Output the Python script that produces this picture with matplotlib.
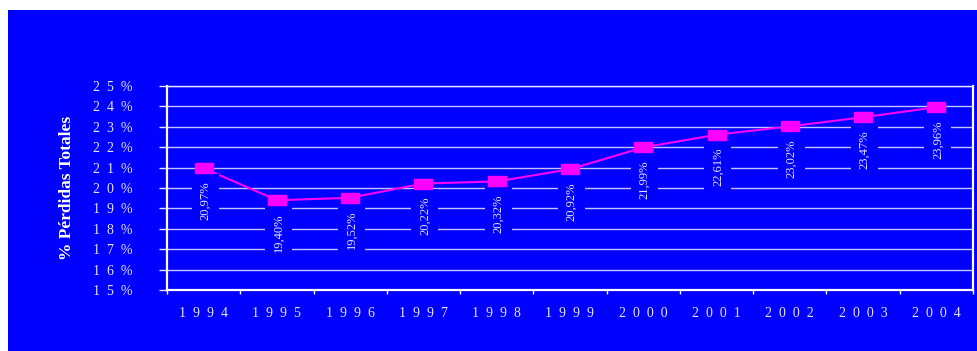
import matplotlib.pyplot as plt
from matplotlib.patches import Rectangle

years = ['1994', '1995', '1996', '1997', '1998', '1999', '2000', '2001', '2002', '2003', '2004']
perdidas = [20.97, 19.40, 19.52, 20.22, 20.32, 20.92, 21.99, 22.61, 23.02, 23.47, 23.96]
y_ticks = list(range(15, 26))

BLUE = '#0000FF'
TXT = '#E4E4FF'
GRID = '#C4C4FF'
MAG = '#FF00FF'

plt.rcParams['font.family'] = ['Liberation Serif', 'DejaVu Serif']

fig = plt.figure(figsize=(9.78, 3.51), dpi=100, facecolor='white')
# blue panel behind everything, leaving the white strip on top
fig.patches.append(Rectangle((8 / 978, 0), 1 - 8 / 978, 341 / 351,
                             transform=fig.transFigure, facecolor=BLUE,
                             edgecolor='none', zorder=-10))

ax = fig.add_axes([167 / 978, 61 / 351, 806 / 978, 204 / 351])
ax.set_facecolor(BLUE)

x = list(range(len(years)))
# line under the value boxes, markers on top of them
ax.plot(x, perdidas, color=MAG, lw=1.5, zorder=3)
box = [(-1.7, -0.9), (1.7, -0.9), (1.7, 0.9), (-1.7, 0.9), (-1.7, -0.9)]
ax.plot(x, perdidas, ls='none', marker=box, markersize=12.5,
        mfc=MAG, mec=MAG, zorder=5)

for xi, v in zip(x, perdidas):
    lab = ('%.2f%%' % v).replace('.', ',')
    ax.annotate(lab, (xi, v), xytext=(1, -9.5), textcoords='offset points',
                rotation=90, ha='center', va='top', fontsize=9, color=TXT,
                bbox=dict(boxstyle='square,pad=0.6', fc=BLUE, ec='none'),
                zorder=4)

ax.set_xlim(-0.5, len(years) - 0.5)
ax.set_ylim(15, 25)

ax.set_yticks(y_ticks)
ax.set_yticklabels(['  '.join(str(t)) + '  %' for t in y_ticks],
                   fontsize=10, color=TXT)
ax.tick_params(axis='y', length=6, width=1, color=TXT, pad=19)

ax.set_xticks(x)
ax.set_xticklabels(['  '.join(y) for y in years], fontsize=10, color=TXT)
ax.set_xticks([i - 0.5 for i in range(len(years) + 1)], minor=True)
ax.tick_params(axis='x', which='major', length=0, pad=12)
ax.tick_params(axis='x', which='minor', length=3, width=1, color='white')

ax.yaxis.grid(True, color=GRID, lw=1)
ax.set_axisbelow(True)

for side in ['left', 'bottom', 'right']:
    ax.spines[side].set_color('white')
    ax.spines[side].set_linewidth(1.6)
ax.spines['top'].set_color('#E8E8FF')
ax.spines['top'].set_linewidth(1)

ax.set_ylabel('% Pérdidas Totales', fontsize=12.5, fontweight='bold',
              color='white', labelpad=13)

fig.savefig('out.png', dpi=100, facecolor=fig.get_facecolor())
